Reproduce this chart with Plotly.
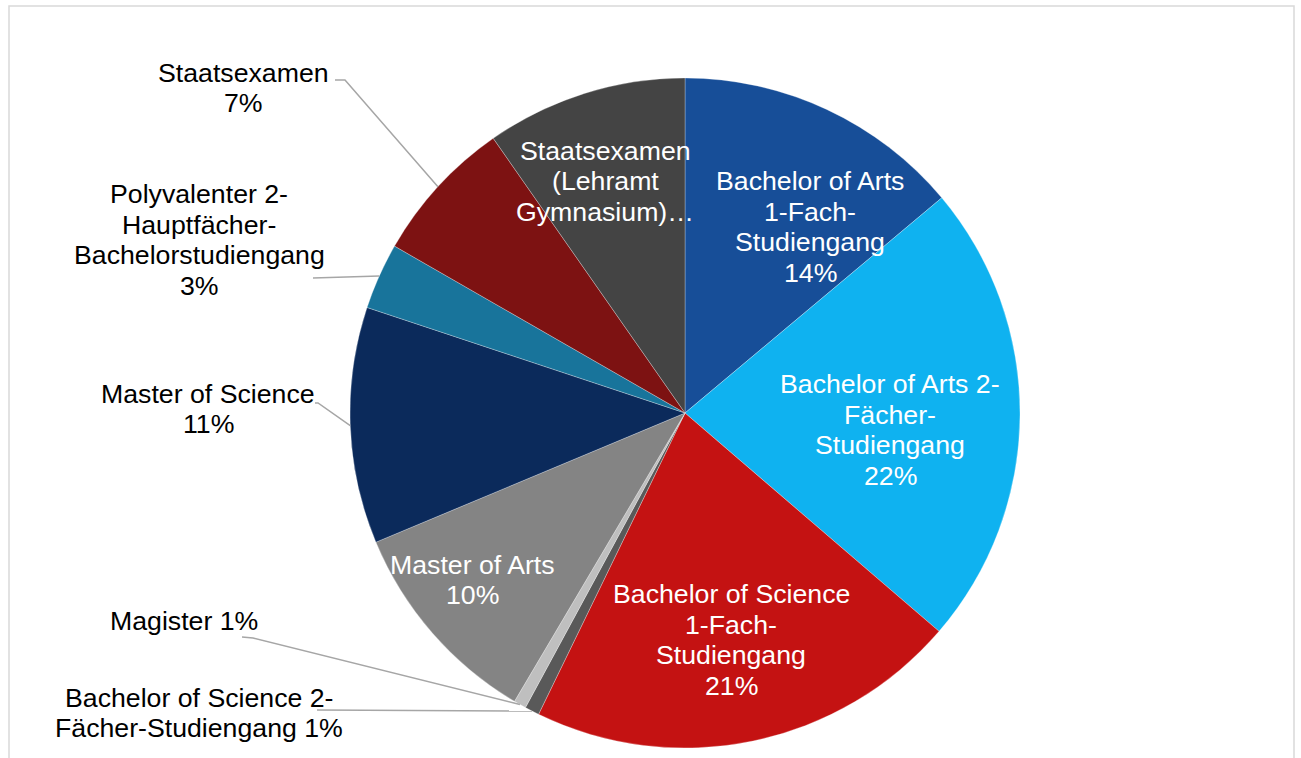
import math
import plotly.graph_objects as go

# ---------------- data ----------------
categories = [
    "Bachelor of Arts 1-Fach-Studiengang",
    "Bachelor of Arts 2-Fächer-Studiengang",
    "Bachelor of Science 1-Fach-Studiengang",
    "Bachelor of Science 2-Fächer-Studiengang",
    "Magister",
    "Master of Arts",
    "Master of Science",
    "Polyvalenter 2-Hauptfächer-Bachelorstudiengang",
    "Staatsexamen",
    "Staatsexamen (Lehramt Gymnasium)",
]
shares = [13.9, 22.4, 20.9, 0.7, 0.6, 10.2, 11.4, 3.2, 7.0, 9.7]

# label text lines ("{p}" is replaced by the rounded percentage)
label_lines = [
    ["Bachelor of Arts", "1-Fach-", "Studiengang", "{p}"],
    ["Bachelor of Arts 2-", "Fächer-", "Studiengang", "{p}"],
    ["Bachelor of Science", "1-Fach-", "Studiengang", "{p}"],
    ["Bachelor of Science 2-", "Fächer-Studiengang {p}"],
    ["Magister {p}"],
    ["Master of Arts", "{p}"],
    ["Master of Science", "{p}"],
    ["Polyvalenter 2-", "Hauptfächer-", "Bachelorstudiengang", "{p}"],
    ["Staatsexamen", "{p}"],
    ["Staatsexamen", "(Lehramt", "Gymnasium)…"],
]

# ---------------- style / layout ----------------
colors = ["#174e98", "#0fb2f0", "#c41212", "#595959", "#bfbfbf",
          "#848484", "#0b2a5b", "#18749b", "#7d1212", "#444444"]
inside = [True, True, True, False, False, True, False, False, False, True]

W, H = 1301, 758
CX, CY, R = 685, 413, 335          # pie centre / radius in pixels
FONT = "Liberation Sans, Arial, sans-serif"
FS = 26.7
LINE_H = 30.5

# label centres (pixels) and leader-line start points for outside labels
label_pos = [(810, 227), (890, 430), (731, 640), (199, 713), (184, 621),
             (472, 580), (208, 409), (199, 240), (243, 88), (605, 181)]
leader_start = {3: [(317, 710)], 4: [(242, 637), (253, 638)],
                6: [(315, 403), (318, 403)], 7: [(313, 278)],
                8: [(335, 80), (345, 80)]}


def px(x):
    return x / W


def py(y):
    return 1 - y / H


total = sum(shares)
pcts = [round(v / total * 100) for v in shares]

fig = go.Figure(go.Pie(
    labels=categories,
    values=shares,
    sort=False,
    direction="clockwise",
    rotation=0,
    textinfo="none",
    hoverinfo="label+percent",
    marker=dict(colors=colors, line=dict(color="rgba(255,255,255,0.35)", width=0.8)),
    domain=dict(x=[px(CX - R), px(CX + R)], y=[py(CY + R), py(CY - R)]),
    showlegend=False,
))

annotations = []
for i, lines in enumerate(label_lines):
    cx, cy = label_pos[i]
    n = len(lines)
    col = "#ffffff" if inside[i] else "#000000"
    for k, ln in enumerate(lines):
        y = cy + (k - (n - 1) / 2) * LINE_H
        annotations.append(dict(
            x=px(cx), y=py(y), xref="paper", yref="paper",
            text=ln.replace("{p}", f"{pcts[i]}%"),
            showarrow=False, xanchor="center", yanchor="middle",
            font=dict(family=FONT, size=FS, color=col),
        ))

# leader lines to the slice edge at the middle angle of each slice
shapes = []
cum = 0.0
mids = []
for v in shares:
    mids.append((cum + v / 2) / total * 2 * math.pi)
    cum += v
for i, pts in leader_start.items():
    a = mids[i]
    ex, ey = CX + R * math.sin(a), CY - R * math.cos(a)
    allp = pts + [(ex, ey)]
    path = "M " + " L ".join(f"{px(x):.5f},{py(y):.5f}" for x, y in allp)
    shapes.append(dict(type="path", path=path, xref="paper", yref="paper",
                       line=dict(color="#a6a6a6", width=1.5)))

# chart frame
shapes.append(dict(type="rect", xref="paper", yref="paper",
                   x0=px(9), x1=px(1294), y0=-0.05, y1=py(6),
                   line=dict(color="#d9d9d9", width=1.5), layer="below"))

fig.update_layout(
    width=W, height=H,
    margin=dict(l=0, r=0, t=0, b=0),
    paper_bgcolor="white", plot_bgcolor="white",
    annotations=annotations, shapes=shapes,
    font=dict(family=FONT),
)

fig.write_html(
    "out.html",
    config={"displayModeBar": False},
    post_script="document.body.style.margin='0';document.body.style.overflow='hidden';",
)
